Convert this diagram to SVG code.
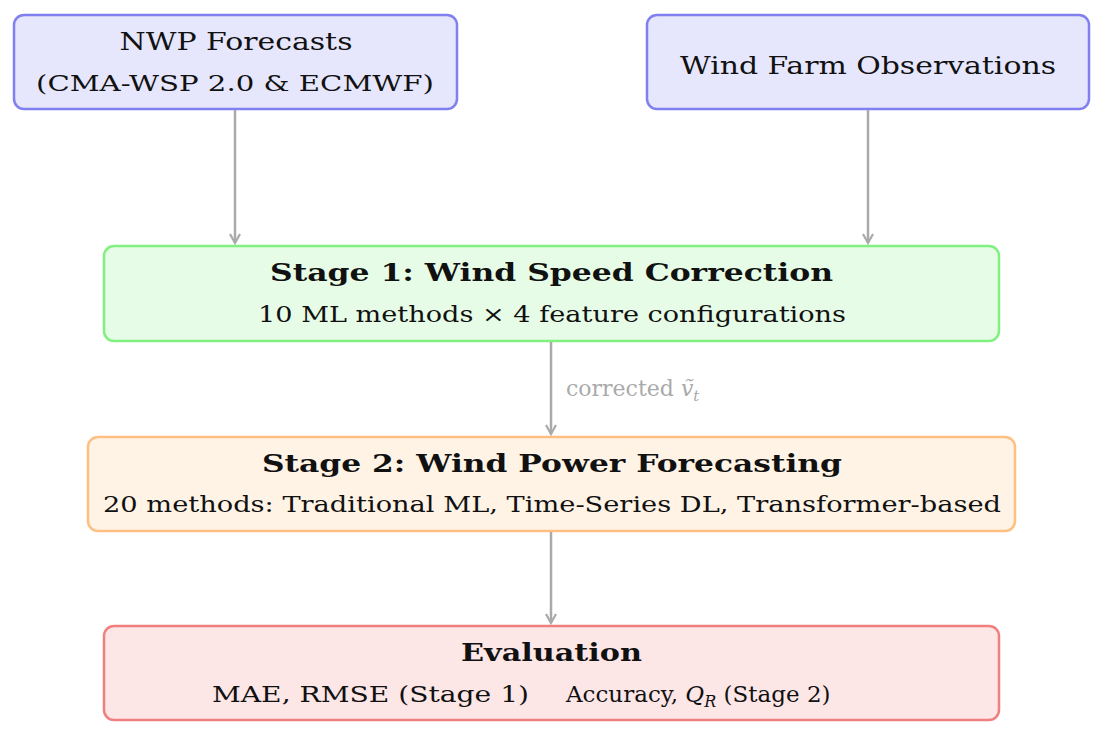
<svg xmlns="http://www.w3.org/2000/svg" width="1102" height="734" viewBox="0 0 1102 734">
<style>
text{font-family:"DejaVu Serif","Liberation Serif",serif;fill:#111;text-anchor:middle}
.t{font-size:25px}.s{font-size:23px}.b{font-weight:bold;font-size:25px}
.box{stroke-width:2.5}
.c{stroke:#aaa;stroke-width:2.5;fill:none;marker-end:url(#ah)}
</style>
<defs><marker id="ah" markerWidth="12" markerHeight="12" refX="10" refY="6" orient="auto" markerUnits="userSpaceOnUse"><path d="M1,1 L10,6 L1,11" fill="none" stroke="#aaa" stroke-width="2.2"/></marker></defs>
<rect width="1102" height="734" fill="#fff"/>
<g id="nwp"><rect class="box" x="14" y="15" width="443" height="94" rx="10" fill="#e6e6fc" stroke="#8080f0"/><text class="t" x="236" y="50" textLength="233" lengthAdjust="spacingAndGlyphs">NWP Forecasts</text><text class="s" x="235" y="91" textLength="398" lengthAdjust="spacingAndGlyphs">(CMA-WSP 2.0 &amp; ECMWF)</text></g>
<g id="obs"><rect class="box" x="647" y="15" width="442" height="94" rx="10" fill="#e6e6fc" stroke="#8080f0"/><text class="t" x="868" y="74" textLength="376" lengthAdjust="spacingAndGlyphs">Wind Farm Observations</text></g>
<g id="stage1"><rect class="box" x="104" y="246" width="895" height="95" rx="10" fill="#e6fce6" stroke="#80f080"/><text class="b" x="551.5" y="281" textLength="563" lengthAdjust="spacingAndGlyphs">Stage 1:  Wind Speed Correction</text><text class="s" x="552" y="322" textLength="588" lengthAdjust="spacingAndGlyphs">10 ML methods × 4 feature configurations</text></g>
<g id="stage2"><rect class="box" x="88" y="437" width="927" height="94" rx="10" fill="#fff3e6" stroke="#ffbf80"/><text class="b" x="552" y="472" textLength="580" lengthAdjust="spacingAndGlyphs">Stage 2:  Wind Power Forecasting</text><text class="s" x="552" y="512" textLength="898" lengthAdjust="spacingAndGlyphs">20 methods: Traditional ML, Time-Series DL, Transformer-based</text></g>
<g id="eval"><rect class="box" x="104" y="626" width="895" height="94" rx="10" fill="#fde6e6" stroke="#f08080"/><text class="b" x="551.5" y="661" textLength="181" lengthAdjust="spacingAndGlyphs">Evaluation</text><text class="s" x="370.5" y="702" textLength="317" lengthAdjust="spacingAndGlyphs">MAE, RMSE (Stage 1)</text><text class="s" x="566" y="702" style="text-anchor:start">Accuracy, <tspan font-style="italic">Q</tspan><tspan font-style="italic" font-size="16" dy="5">R</tspan><tspan dy="-5"> (Stage 2)</tspan></text></g>
<g id="connectors">
<line class="c" x1="235" y1="110" x2="235" y2="243"/>
<line class="c" x1="868" y1="110" x2="868" y2="243"/>
<line class="c" x1="551" y1="342" x2="551" y2="434"/>
<line class="c" x1="551" y1="532" x2="551" y2="623"/>
<text x="566" y="396" font-size="22" style="text-anchor:start;fill:#aaa">corrected <tspan font-style="italic">ṽ</tspan><tspan font-style="italic" font-size="15" dy="5">t</tspan></text>
</g>
</svg>
